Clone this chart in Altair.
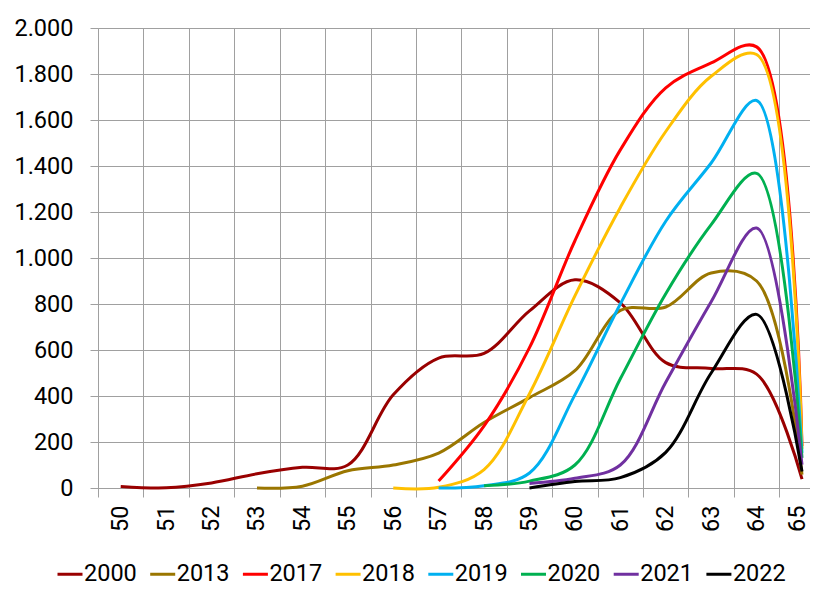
import altair as alt
import pandas as pd

ages = list(range(50, 66))
series_names = ["2000", "2013", "2017", "2018", "2019", "2020", "2021", "2022"]
colors = ["#990000", "#9A7600", "#FF0000", "#FFC000", "#00B0F0", "#00B050", "#7030A0", "#000000"]

s2000 = [7, 1, 22, 62, 90, 100, 405, 565, 585, 770, 905, 805, 545, 520, 495, 39]
s2013 = [None, None, None, 0, 8, 75, 100, 152, 285, 393, 510, 772, 787, 935, 900, 58]
s2017 = [None] * 7 + [30, 270, 610, 1075, 1470, 1740, 1848, 1918, 182]
s2018 = [None] * 6 + [0, 3, 80, 410, 835, 1220, 1550, 1790, 1885, 170]
s2019 = [None] * 7 + [0, 10, 65, 405, 800, 1160, 1413, 1685, 153]
s2020 = [None] * 8 + [10, 30, 100, 475, 845, 1145, 1368, 131]
s2021 = [None] * 9 + [20, 42, 100, 460, 810, 1130, 102]
s2022 = [None] * 9 + [0, 28, 45, 155, 500, 755, 72]

y_ticks = list(range(0, 2001, 200))
x_boundaries = [a - 0.5 for a in ages]

all_series = [s2000, s2013, s2017, s2018, s2019, s2020, s2021, s2022]
rows = []
for name, vals in zip(series_names, all_series):
    for a, v in zip(ages, vals):
        if v is not None:
            rows.append({"age": a, "value": v, "year": name})
df = pd.DataFrame(rows)

FONT = "Roboto"
FS = 23.5
GRID = "#A0A0A0"
BAND = 45.42          # pixel width of one age category
W = 712               # visible plot width (the reference is cropped at the right)
H = 460
x_max = ages[0] - 0.5 + W / BAND
last_boundary = x_boundaries[-1]

chart = alt.Chart(df).mark_line(
    interpolate="catmull-rom", strokeWidth=3
).encode(
    x=alt.X(
        "age:Q",
        scale=alt.Scale(domain=[ages[0] - 0.5, x_max], nice=False, zero=False),
        axis=alt.Axis(
            values=x_boundaries,
            labelExpr="'' + (datum.value + 0.5)",
            labelOffset={
                "condition": {"test": f"datum.value >= {last_boundary}", "value": BAND / 2 - 5},
                "value": BAND / 2,
            },
            labelAngle=-90,
            labelFlush=False,
            labelOverlap=False,
            labelPadding=8,
            tickSize=9,
            tickColor=GRID,
            grid=True,
            gridColor=GRID,
            domainColor=GRID,
            title=None,
        ),
    ),
    y=alt.Y(
        "value:Q",
        scale=alt.Scale(domain=[0, 2000], nice=False),
        axis=alt.Axis(
            values=y_ticks,
            labelExpr="replace(format(datum.value, ','), ',', '.')",
            tickSize=8,
            tickColor=GRID,
            labelPadding=17,
            grid=True,
            gridColor=GRID,
            domainColor=GRID,
            title=None,
        ),
    ),
    color=alt.Color(
        "year:N",
        scale=alt.Scale(domain=series_names, range=colors),
        legend=alt.Legend(
            title=None,
            orient="none",
            direction="horizontal",
            columns=8,
            legendX=-42,
            legendY=532,
            symbolType="stroke",
            symbolSize=625,
            symbolStrokeWidth=3,
            labelOffset=0,
            columnPadding=6.7,
            padding=0,
        ),
    ),
    order=alt.Order("age:Q"),
).properties(
    width=W,
    height=H,
    autosize=alt.AutoSizeParams(type="none"),
    padding={"left": 90, "top": 20, "right": 0, "bottom": 100},
).configure_axis(
    labelFont=FONT,
    labelFontSize=FS,
    labelColor="#000000",
    gridWidth=1,
    domainWidth=1,
).configure_legend(
    labelFont=FONT,
    labelFontSize=FS,
    labelColor="#000000",
).configure_view(stroke=None)

chart.save("out.html", embed_options={"renderer": "svg", "actions": False})
